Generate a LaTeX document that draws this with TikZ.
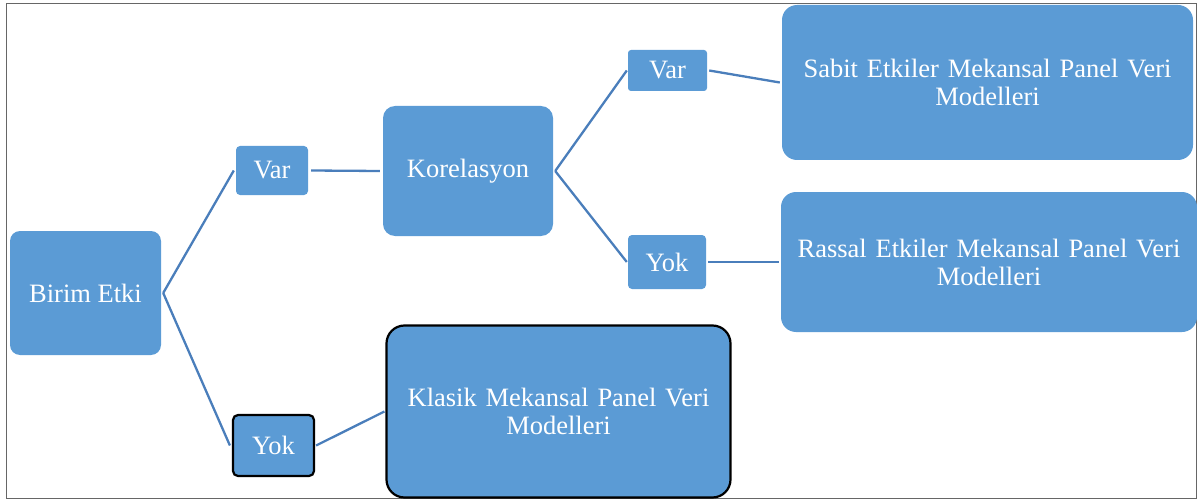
\documentclass[tikz,border=0pt]{standalone}
\usepackage{fontspec}
\setmainfont{Liberation Serif}
\definecolor{boxfill}{HTML}{5B9BD5}
\definecolor{linecol}{HTML}{4A7EBB}
\begin{document}
\begin{tikzpicture}[x=1pt,y=-1pt,
  box/.style={rectangle, fill=boxfill, text=white, inner sep=0pt, align=center,
    font=\fontsize{26.5}{28}\selectfont},
  conn/.style={draw=linecol, line width=2.3pt}]
\useasboundingbox (0,0) rectangle (1197,500);
\draw[gray!80!black, line width=1pt] (6,4) rectangle (1196,498);
% nodes
\node[box, rounded corners=10pt, minimum width=151pt, minimum height=124pt] (birim) at (85.5,293) {Birim Etki};
\node[box, rounded corners=4pt, minimum width=72pt, minimum height=49pt] (var1) at (272,170.5) {Var};
\node[box, draw=black, line width=2.2pt, rounded corners=5pt, minimum width=81pt, minimum height=61pt] (yok1) at (273.5,445.5) {Yok};
\node[box, rounded corners=12pt, minimum width=170pt, minimum height=130pt] (kor) at (468,171) {Korelasyon};
\node[box, rounded corners=3pt, minimum width=79pt, minimum height=41pt] (var2) at (667.5,70.5) {Var};
\node[box, rounded corners=4pt, minimum width=78pt, minimum height=54pt] (yok2) at (667,262) {Yok};
\node[box, rounded corners=15pt, minimum width=411pt, minimum height=155pt, text width=405pt] (sabit) at (987.5,82.5) {Sabit Etkiler Mekansal Panel Veri\\Modelleri};
\node[box, rounded corners=15pt, minimum width=416pt, minimum height=140pt, text width=410pt] (rassal) at (989,262) {Rassal Etkiler Mekansal Panel Veri\\Modelleri};
\node[box, draw=black, line width=2.2pt, rounded corners=18pt, minimum width=344pt, minimum height=172pt, text width=335pt] (klasik) at (558.5,411.5) {Klasik Mekansal Panel Veri\\Modelleri};
% connectors
\coordinate (bR) at ([xshift=2pt]birim.east);
\draw[conn] (bR) -- ([xshift=-2pt]var1.west);
\draw[conn] (bR) -- ([xshift=-2pt]yok1.west);
\draw[conn] ([xshift=3pt]var1.east) -- ([xshift=-3pt]kor.west);
\coordinate (kR) at ([xshift=2pt]kor.east);
\draw[conn] (kR) -- ([xshift=-1pt]var2.west);
\draw[conn] (kR) -- ([xshift=-1pt]yok2.west);
\draw[conn] ([xshift=2pt]var2.east) -- ([xshift=-2pt,yshift=0pt]sabit.west);
\draw[conn] ([xshift=2pt]yok2.east) -- ([xshift=-2pt]rassal.west);
\draw[conn] ([xshift=1pt]yok1.east) -- ([xshift=-1pt]klasik.west);
\end{tikzpicture}
\end{document}
